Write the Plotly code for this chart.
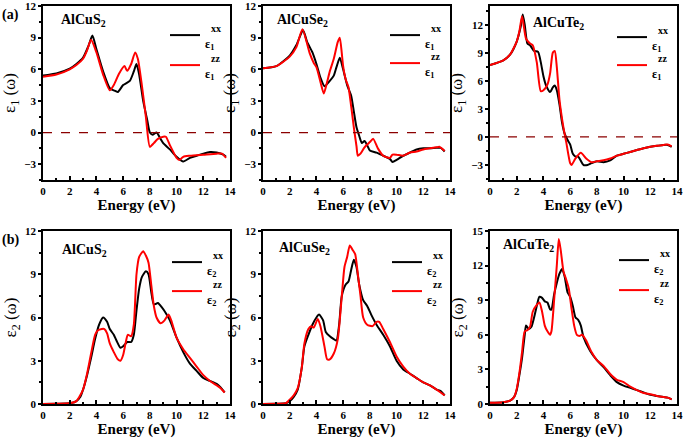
import plotly.graph_objects as go
from plotly.subplots import make_subplots

# ---------------- data ----------------
# (a) real part eps1, AlCuS2
s_e1xx_x = [0, 1, 2, 2.5, 3, 3.4, 3.7, 4.0, 4.5, 5.0, 5.3, 5.6, 6.0, 6.5, 6.8, 7.0, 7.2, 7.5, 7.8, 8.0, 8.2, 8.5, 8.8, 9.0, 9.5, 10.0, 10.5, 11.0, 11.5, 12.0, 12.5, 13.0, 13.5, 13.7]
s_e1xx_y = [5.4, 5.6, 6.05, 6.5, 7.1, 8.2, 9.2, 7.9, 5.8, 4.2, 4.0, 3.85, 4.5, 4.9, 5.8, 6.5, 5.5, 3.0, 1.2, 0.0, -0.2, 0.0, -0.6, -1.0, -1.6, -2.3, -2.75, -2.4, -2.2, -2.0, -1.85, -1.9, -2.1, -2.3]
s_e1zz_x = [0, 1, 2, 2.5, 3, 3.3, 3.6, 4.0, 4.5, 5.0, 5.3, 5.7, 6.1, 6.3, 6.6, 6.9, 7.1, 7.4, 7.7, 8.0, 8.3, 8.6, 9.0, 9.2, 9.5, 10.0, 10.2, 10.5, 11.0, 12.0, 13.0, 13.4, 13.7]
s_e1zz_y = [5.3, 5.5, 6.0, 6.4, 7.0, 7.8, 8.8, 7.6, 5.5, 4.0, 4.5, 5.6, 6.3, 5.85, 6.5, 7.6, 7.0, 4.5, 1.5, -1.35, -1.0, -0.6, -0.4, -0.4, -1.2, -2.4, -2.6, -2.3, -2.2, -2.1, -2.0, -2.0, -2.4]

# (a) AlCuSe2
se_e1xx_x = [0, 1, 2, 2.5, 3.0, 3.3, 3.7, 4.0, 4.3, 4.6, 5.0, 5.3, 5.5, 5.75, 6.0, 6.3, 6.6, 6.8, 7.0, 7.2, 7.4, 7.6, 7.8, 8.0, 8.5, 9.0, 9.5, 9.7, 10.0, 10.5, 11.0, 11.5, 12.0, 12.5, 13.0, 13.3, 13.6]
se_e1xx_y = [6.1, 6.3, 7.3, 8.3, 9.7, 8.6, 7.6, 6.5, 5.2, 4.4, 4.9, 5.4, 6.2, 7.1, 6.0, 4.5, 3.5, 2.0, 0.5, -0.3, -1.0, -0.8, -1.2, -1.7, -1.9, -2.2, -2.5, -2.8, -2.6, -2.2, -1.9, -1.6, -1.5, -1.5, -1.45, -1.45, -1.8]
se_e1zz_x = [0, 1, 2, 2.5, 2.95, 3.5, 3.8, 4.0, 4.3, 4.55, 4.8, 5.0, 5.3, 5.6, 5.75, 5.9, 6.0, 6.2, 6.4, 6.6, 6.8, 7.0, 7.1, 7.3, 7.6, 8.0, 8.25, 8.6, 9.0, 9.5, 9.7, 10.0, 10.5, 11.0, 11.5, 12.0, 12.5, 13.0, 13.2, 13.6]
se_e1zz_y = [6.1, 6.3, 7.2, 8.1, 9.8, 7.5, 6.6, 6.2, 4.8, 3.7, 4.8, 5.8, 7.0, 8.6, 9.0, 7.5, 6.3, 5.0, 4.3, 2.5, 0.5, -1.3, -2.2, -2.0, -1.4, -0.9, -0.6, -1.5, -2.2, -2.4, -2.1, -2.1, -2.2, -1.9, -1.8, -1.6, -1.5, -1.4, -1.35, -1.75]

# (a) AlCuTe2
te_e1xx_x = [0, 1, 1.5, 2.0, 2.3, 2.45, 2.6, 2.8, 3.0, 3.3, 3.6, 3.8, 4.0, 4.2, 4.5, 4.7, 4.85, 5.0, 5.2, 5.4, 5.6, 5.8, 6.0, 6.2, 6.4, 6.6, 7.0, 7.3, 7.6, 8.0, 8.5, 9.0, 9.5, 10.0, 10.5, 11.0, 11.5, 12.0, 12.5, 13.0, 13.3, 13.6]
te_e1xx_y = [7.7, 8.2, 8.8, 10.2, 11.8, 13.1, 12.0, 10.0, 9.8, 9.2, 9.1, 8.0, 6.5, 5.5, 4.8, 5.3, 5.5, 5.0, 3.5, 1.5, 0.3, -0.3, -0.8, -1.8, -2.1, -2.1, -3.0, -3.0, -2.8, -2.6, -2.7, -2.5, -2.0, -1.8, -1.6, -1.4, -1.2, -1.05, -0.95, -0.85, -0.85, -1.05]
te_e1zz_x = [0, 1, 1.5, 2.0, 2.2, 2.4, 2.7, 3.0, 3.2, 3.5, 3.8, 4.0, 4.3, 4.5, 4.7, 4.85, 5.0, 5.2, 5.5, 5.7, 6.0, 6.1, 6.4, 6.8, 7.2, 7.6, 8.0, 8.5, 9.0, 9.5, 10.0, 10.5, 11.0, 11.5, 12.0, 12.5, 13.0, 13.3, 13.6]
te_e1zz_y = [7.7, 8.2, 8.8, 10.2, 11.3, 12.9, 10.5, 10.0, 9.8, 8.0, 4.9, 5.0, 5.6, 6.8, 9.0, 9.2, 7.5, 4.0, 1.0, -0.5, -2.8, -3.0, -2.3, -1.7, -2.3, -2.7, -2.6, -2.5, -2.3, -2.0, -1.8, -1.6, -1.4, -1.2, -1.05, -0.95, -0.85, -0.8, -1.0]

# (b) imaginary part eps2, AlCuS2
s_e2xx_x = [0, 1, 2.0, 2.5, 2.8, 3.0, 3.3, 3.6, 3.9, 4.2, 4.5, 4.8, 5.0, 5.3, 5.5, 5.8, 6.0, 6.3, 6.6, 6.8, 7.0, 7.2, 7.4, 7.7, 7.9, 8.1, 8.3, 8.6, 8.9, 9.2, 9.5, 10.0, 10.5, 11.0, 11.5, 12.0, 12.5, 13.0, 13.3, 13.6]
s_e2xx_y = [0.0, 0.02, 0.05, 0.2, 0.5, 1.0, 2.0, 3.2, 4.5, 5.5, 6.0, 5.7, 5.2, 4.8, 4.4, 3.9, 4.0, 4.3, 4.3, 4.8, 6.5, 8.0, 8.8, 9.2, 9.0, 7.8, 6.9, 7.0, 6.7, 6.3, 5.8, 4.6, 3.6, 2.8, 2.3, 1.8, 1.6, 1.4, 1.15, 0.8]
s_e2zz_x = [0, 1, 2.0, 2.5, 3.0, 3.3, 3.6, 3.9, 4.1, 4.4, 4.6, 4.8, 5.0, 5.3, 5.6, 5.8, 6.0, 6.2, 6.35, 6.6, 6.8, 7.0, 7.2, 7.5, 7.7, 7.9, 8.1, 8.3, 8.5, 8.8, 9.1, 9.4, 9.6, 10.0, 10.5, 11.0, 11.5, 12.0, 12.5, 13.0, 13.3, 13.6]
s_e2zz_y = [0.0, 0.02, 0.05, 0.2, 1.0, 2.1, 3.5, 4.8, 5.1, 5.2, 5.2, 4.9, 4.2, 3.6, 3.1, 3.0, 3.4, 4.3, 4.8, 4.7, 5.5, 9.0, 10.2, 10.6, 10.3, 9.8, 8.3, 6.8, 6.0, 5.6, 5.8, 6.2, 5.8, 4.6, 3.8, 3.2, 2.6, 2.0, 1.6, 1.3, 1.1, 0.8]

# (b) AlCuSe2
se_e2xx_x = [0, 1, 1.7, 2.0, 2.3, 2.6, 2.9, 3.1, 3.4, 3.7, 4.0, 4.2, 4.5, 4.7, 5.0, 5.3, 5.5, 5.7, 5.9, 6.2, 6.4, 6.6, 6.8, 7.0, 7.2, 7.5, 7.8, 8.1, 8.5, 9.0, 9.5, 10.0, 10.5, 11.0, 11.5, 12.0, 12.5, 13.0, 13.3, 13.6]
se_e2xx_y = [0.0, 0.02, 0.05, 0.2, 0.5, 1.0, 2.5, 4.0, 4.8, 5.5, 6.0, 6.2, 5.8, 5.0, 4.7, 4.5, 4.4, 5.5, 7.5, 8.3, 8.5, 9.3, 10.0, 9.5, 8.3, 7.2, 6.8, 6.2, 5.5, 4.8, 4.0, 3.0, 2.4, 2.1, 1.8, 1.5, 1.3, 1.0, 0.9, 0.6]
se_e2zz_x = [0, 1, 1.7, 2.0, 2.3, 2.6, 2.9, 3.1, 3.4, 3.6, 3.8, 4.1, 4.3, 4.6, 4.8, 5.0, 5.3, 5.6, 5.9, 6.1, 6.3, 6.5, 6.7, 6.9, 7.1, 7.3, 7.5, 7.8, 8.2, 8.5, 8.7, 9.0, 9.5, 10.0, 10.5, 11.0, 11.5, 12.0, 12.5, 13.0, 13.3, 13.6]
se_e2zz_y = [0.0, 0.02, 0.05, 0.3, 0.6, 1.1, 2.5, 4.2, 5.2, 5.4, 5.3, 5.9, 5.4, 4.0, 3.1, 3.1, 3.5, 4.5, 7.5, 9.5, 10.2, 11.0, 10.7, 10.4, 9.0, 7.5, 6.0, 5.5, 5.4, 5.7, 5.7, 5.2, 4.3, 3.3, 2.6, 2.1, 1.8, 1.5, 1.3, 1.0, 0.8, 0.6]

# (b) AlCuTe2
te_e2xx_x = [0, 1, 1.5, 1.8, 2.0, 2.2, 2.4, 2.6, 2.7, 2.9, 3.1, 3.3, 3.5, 3.7, 3.9, 4.1, 4.3, 4.5, 4.6, 4.8, 5.0, 5.2, 5.4, 5.6, 5.8, 6.0, 6.2, 6.4, 6.6, 6.8, 7.0, 7.5, 8.0, 8.5, 9.0, 9.5, 10.0, 10.5, 11.0, 11.5, 12.0, 12.5, 13.0, 13.3, 13.6]
te_e2xx_y = [0.1, 0.15, 0.3, 0.6, 1.2, 2.5, 4.0, 6.0, 6.8, 6.5, 6.7, 7.5, 8.5, 9.3, 9.2, 8.9, 8.8, 8.2, 8.2, 9.5, 10.5, 11.3, 11.7, 11.0, 9.7, 9.3, 8.5, 7.5, 7.3, 6.8, 5.8, 4.6, 3.8, 3.2, 2.5, 1.9, 1.6, 1.4, 1.2, 1.0, 0.8, 0.7, 0.6, 0.55, 0.4]
te_e2zz_x = [0, 1, 1.5, 1.8, 2.0, 2.2, 2.4, 2.6, 2.8, 3.0, 3.2, 3.5, 3.7, 3.9, 4.1, 4.3, 4.5, 4.6, 4.8, 5.0, 5.15, 5.3, 5.5, 5.7, 5.9, 6.1, 6.3, 6.5, 6.7, 6.9, 7.2, 7.6, 8.0, 8.5, 9.0, 9.5, 10.0, 10.5, 11.0, 11.5, 12.0, 12.5, 13.0, 13.3, 13.6]
te_e2zz_y = [0.1, 0.15, 0.3, 0.6, 1.3, 2.7, 4.5, 6.3, 6.4, 6.7, 8.0, 8.6, 8.8, 8.0, 6.8, 6.3, 6.0, 6.3, 9.0, 12.0, 14.3, 13.3, 11.5, 10.8, 10.0, 8.3, 6.8, 6.0, 5.9, 6.0, 5.5, 4.5, 3.8, 3.3, 2.6, 2.1, 1.9, 1.5, 1.2, 0.95, 0.85, 0.7, 0.6, 0.55, 0.4]

compounds = ["AlCuS<sub>2</sub>", "AlCuSe<sub>2</sub>", "AlCuTe<sub>2</sub>"]
x_ticks = [0, 2, 4, 6, 8, 10, 12, 14]
top_ranges = [[-4.5, 12], [-4.5, 12], [-4.6, 14]]
bot_ranges = [[0, 12], [0, 12], [0, 15]]

top_series = [(s_e1xx_x, s_e1xx_y, s_e1zz_x, s_e1zz_y),
              (se_e1xx_x, se_e1xx_y, se_e1zz_x, se_e1zz_y),
              (te_e1xx_x, te_e1xx_y, te_e1zz_x, te_e1zz_y)]
bot_series = [(s_e2xx_x, s_e2xx_y, s_e2zz_x, s_e2zz_y),
              (se_e2xx_x, se_e2xx_y, se_e2zz_x, se_e2zz_y),
              (te_e2xx_x, te_e2xx_y, te_e2zz_x, te_e2zz_y)]

# ---------------- figure ----------------
W, H = 685, 441
FONT = "Liberation Serif, Times New Roman, Times, serif"
fig = make_subplots(rows=2, cols=3)

xdom_px = [(43, 230), (263, 450), (490, 677)]
ydom_px = [(6, 180), (231, 404)]


def px_x(p):
    return p / W


def px_y(p):
    return 1 - p / H


# legend line start x, black line y, red line y (pixels)
legend_px = [[(173, 34, 64), (393, 34, 62), (620, 36, 64)],
             [(175, 261, 290), (395, 261, 290), (622, 259, 289)]]
LEG_DY = 21
LEG_DX = 8
title_pos_px = [[(59, 20), (275, 20), (531, 23)],
                [(60, 250), (277, 248), (501, 245)]]

k = 0
for r, (series, sub) in enumerate([(top_series, "1"), (bot_series, "2")]):
    for c in range(3):
        xx_x, xx_y, zz_x, zz_y = series[c]
        lx, ly_b, ly_r = legend_px[r][c]
        for (xs, ys, col, comp, ly) in [(xx_x, xx_y, "black", "xx", ly_b),
                                        (zz_x, zz_y, "#ff0000", "zz", ly_r)]:
            k += 1
            lname = "legend" if k == 1 else f"legend{k}"
            fig.add_trace(go.Scatter(
                x=xs, y=ys, mode="lines",
                line=dict(color=col, width=2, shape="spline", smoothing=0.6),
                name=f"&nbsp;&nbsp;<span style='font-size:10px'>{comp}</span><br>ε<sub>{sub}</sub>",
                legend=lname),
                row=r + 1, col=c + 1)
            fig.update_layout({lname: dict(
                x=px_x(lx - LEG_DX), y=px_y(ly - LEG_DY), xanchor="left", yanchor="top",
                bgcolor="rgba(0,0,0,0)", borderwidth=0,
                font=dict(family=FONT, size=12, color="black", weight="bold"),
                itemwidth=30)})
        tx, ty = title_pos_px[r][c]
        fig.add_annotation(x=px_x(tx), y=px_y(ty), xref="paper", yref="paper",
                           text=compounds[c], showarrow=False, xanchor="left", yanchor="middle",
                           font=dict(family=FONT, size=14, color="black", weight="bold"))
        x0, x1 = xdom_px[c]
        y0, y1 = ydom_px[r]
        rng = top_ranges[c] if r == 0 else bot_ranges[c]
        fig.update_xaxes(domain=[px_x(x0), px_x(x1)], range=[0, 14], tickvals=x_ticks,
                         ticks="inside", ticklen=4, tickwidth=1.5, tickcolor="black",
                         minor=dict(dtick=1, ticks="inside", ticklen=2, tickcolor="black"),
                         showline=True, linecolor="black", linewidth=1.5, mirror=True,
                         showgrid=False, zeroline=False, automargin=False,
                         ticklabeloverflow="allow",
                         tickfont=dict(family=FONT, size=11, color="black", weight="bold"),
                         title=dict(text="Energy (eV)", standoff=4,
                                    font=dict(family=FONT, size=15, color="black", weight="bold")),
                         row=r + 1, col=c + 1)
        fig.update_yaxes(domain=[px_y(y1), px_y(y0)], range=rng, dtick=3, tick0=0,
                         ticks="outside", ticklen=3, tickwidth=1.5, tickcolor="black",
                         minor=dict(dtick=1.5, ticks="outside", ticklen=2, tickcolor="black"),
                         showline=True, linecolor="black", linewidth=1.5, mirror=True,
                         showgrid=False, zeroline=False, automargin=False,
                         ticklabeloverflow="allow",
                         tickfont=dict(family=FONT, size=11, color="black", weight="bold"),
                         title=dict(text=f"ε<sub>{sub}</sub> (ω)", standoff=4,
                                    font=dict(family=FONT, size=17, color="black")),
                         row=r + 1, col=c + 1)
        if r == 0:
            fig.add_hline(y=0, line=dict(color="#8b0000", width=1.3, dash="dash"), row=1, col=c + 1)

fig.add_annotation(x=0, y=px_y(15), xref="paper", yref="paper", text="(a)", showarrow=False,
                   xanchor="left", yanchor="middle",
                   font=dict(family=FONT, size=14, color="black", weight="bold"))
fig.add_annotation(x=0, y=px_y(240), xref="paper", yref="paper", text="(b)", showarrow=False,
                   xanchor="left", yanchor="middle",
                   font=dict(family=FONT, size=14, color="black", weight="bold"))

fig.update_layout(width=W, height=H, margin=dict(l=0, r=0, t=0, b=0, pad=0, autoexpand=False),
                  paper_bgcolor="white", plot_bgcolor="white", showlegend=True)
fig.write_html("out.html", config={"displayModeBar": False},
               post_script="document.body.style.margin='0';document.body.style.overflow='hidden';")
